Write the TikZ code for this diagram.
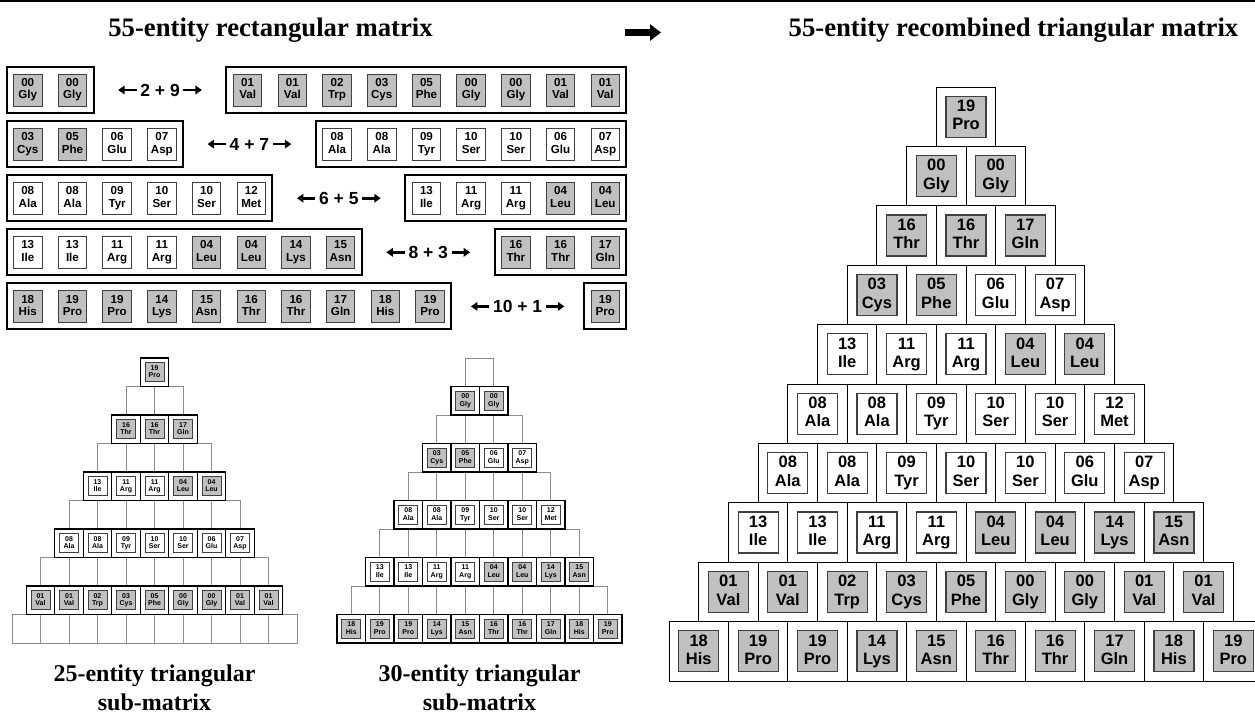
\documentclass[tikz,border=0pt]{standalone}
\usepackage{fontspec}
\setmainfont{Liberation Serif}
\newfontfamily\cellfont{Liberation Sans}
\usepackage{tikz}
\usetikzlibrary{calc}
\usetikzlibrary{fit}
\usetikzlibrary{arrows.meta}

\definecolor{cellgray}{RGB}{192,192,192}
\definecolor{gridgray}{RGB}{140,140,140}
\definecolor{edgegray}{RGB}{64,64,64}

% shading of the residues
\tikzset{
  Gly/.style={fill=cellgray}, Val/.style={fill=cellgray},
  Trp/.style={fill=cellgray}, Cys/.style={fill=cellgray},
  Phe/.style={fill=cellgray}, Leu/.style={fill=cellgray},
  Lys/.style={fill=cellgray}, Asn/.style={fill=cellgray},
  Thr/.style={fill=cellgray}, Gln/.style={fill=cellgray},
  His/.style={fill=cellgray}, Pro/.style={fill=cellgray},
  Glu/.style={fill=white}, Asp/.style={fill=white},
  Ala/.style={fill=white}, Tyr/.style={fill=white},
  Ser/.style={fill=white}, Met/.style={fill=white},
  Ile/.style={fill=white}, Arg/.style={fill=white}
}

\begin{document}
\begin{tikzpicture}
  [
    x=1pt, y=-1pt,
    title/.style={
       font=\bfseries\fontsize{26.7}{30}\selectfont,
       anchor=base
    },
    subtitle/.style={
       font=\bfseries\fontsize{24}{28.5}\selectfont,
       align=center,
       anchor=base
    },
    rcell/.style={
       draw=edgegray,
       line width=0.9pt,
       minimum width=28.5pt,
       minimum height=32pt,
       inner sep=0pt,
       align=center,
       font=\cellfont\bfseries\fontsize{11.6}{12.3}\selectfont
    },
    group/.style={
       draw=black,
       line width=2pt,
       inner sep=6.5pt
    },
    sum/.style={
       inner xsep=3.5pt,
       font=\cellfont\bfseries\fontsize{17.5}{20}\selectfont
    },
    sumtip/.style={
       line width=2.6pt,
       -{Triangle[length=6.5pt,width=8.5pt]}
    },
    bigcell/.style={
       draw=black,
       line width=1pt,
       fill=white,
       minimum size=59.4pt,
       inner sep=0pt
    },
    biginner/.style={
       draw=edgegray,
       line width=1.2pt,
       minimum width=40pt,
       minimum height=41pt,
       inner sep=0pt,
       align=center,
       font=\cellfont\bfseries\fontsize{16.5}{18.3}\selectfont
    },
    tgrid/.style={
       draw=gridgray,
       line width=0.8pt
    },
    smallcell/.style={
       draw=black,
       line width=1.3pt,
       fill=white,
       minimum size=28.5pt,
       inner sep=0pt
    },
    smallinner/.style={
       draw=edgegray,
       line width=0.7pt,
       minimum size=19pt,
       inner sep=0pt,
       align=center,
       font=\cellfont\bfseries\fontsize{7}{7.6}\selectfont
    }
  ]
  \useasboundingbox (0,0) rectangle (1255,713);
  \draw [line width=2pt] (0,1) -- (1255,1);

  \node (rectTitle) at ( 270.5,36) [title] {55-entity rectangular matrix};
  \node (triTitle)  at (1013.5,36) [title] {55-entity recombined triangular matrix};

  \coordinate (arrTail) at (625,32.5);
  \coordinate (arrHead) at (661,32.5);
  \draw [line width=7.5pt, -{Triangle[length=11pt,width=16pt]}] (arrTail) -- (arrHead);

  % empty cells of both sub-matrices
  \foreach \cx in {154.5,479.5}
    \foreach \k in {1,...,10}
      \foreach \j in {1,...,\k}
        \draw [tgrid] ({\cx+(\j-(\k+1)/2-0.5)*28.5},{358+(\k-1)*28.5}) rectangle ++(28.5,28.5);

  % row k of the triangle: odd rows go right / to the 25-entity part, even rows left / to the 30-entity part
  \foreach \k/\data in {1/{19/Pro},
     2/{00/Gly,00/Gly},
     3/{16/Thr,16/Thr,17/Gln},
     4/{03/Cys,05/Phe,06/Glu,07/Asp},
     5/{13/Ile,11/Arg,11/Arg,04/Leu,04/Leu},
     6/{08/Ala,08/Ala,09/Tyr,10/Ser,10/Ser,12/Met},
     7/{08/Ala,08/Ala,09/Tyr,10/Ser,10/Ser,06/Glu,07/Asp},
     8/{13/Ile,13/Ile,11/Arg,11/Arg,04/Leu,04/Leu,14/Lys,15/Asn},
     9/{01/Val,01/Val,02/Trp,03/Cys,05/Phe,00/Gly,00/Gly,01/Val,01/Val},
    10/{18/His,19/Pro,19/Pro,14/Lys,15/Asn,16/Thr,16/Thr,17/Gln,18/His,19/Pro}}{%
    \ifodd\k
      \pgfmathsetmacro\rowy{90+((11-\k)/2-1)*54.1}
      \pgfmathsetmacro\rowx{605.25-(\k-1)*44.7}
      \def\smallx{154.5}
    \else
      \pgfmathsetmacro\rowy{90+(\k/2-1)*54.1}
      \def\rowx{27.75}
      \def\smallx{479.5}
    \fi
    \foreach \num/\res [count=\j] in \data {
      \node (R\k-\j) at ({\rowx+(\j-1)*44.7},\rowy) [rcell, \res] {\num\\\res\vphantom{g}};
      \node (B\k-\j) at ({966+(\j-(\k+1)/2)*59.4},{87+(\k-0.5)*59.4}) [bigcell] {};
      \node at (B\k-\j) [biginner, \res] {\num\\\res\vphantom{g}};
      \node (S\k-\j) at ({\smallx+(\j-(\k+1)/2)*28.5},{358+(\k-0.5)*28.5}) [smallcell] {};
      \node at (S\k-\j) [smallinner, \res] {\num\\\res\vphantom{g}};
    }
    \node (G\k) [group, fit=(R\k-1)(R\k-\k)] {};
  }

  \foreach \a/\b in {2/9,4/7,6/5,8/3,10/1}{
    \node (sum\a) at ($(G\a.east)!0.5!(G\b.west)$) [sum] {\a{} + \b};
    \coordinate (sumL\a) at ($(sum\a.west)+(-18.5,0)$);
    \coordinate (sumR\a) at ($(sum\a.east)+(18.5,0)$);
    \draw [sumtip] (sum\a.west) -- (sumL\a);
    \draw [sumtip] (sum\a.east) -- (sumR\a);
  }

  \node (subTitleA) at (154.5,710) [subtitle] {25-entity triangular\\sub-matrix};
  \node (subTitleB) at (479.5,710) [subtitle] {30-entity triangular\\sub-matrix};
\end{tikzpicture}
\end{document}
